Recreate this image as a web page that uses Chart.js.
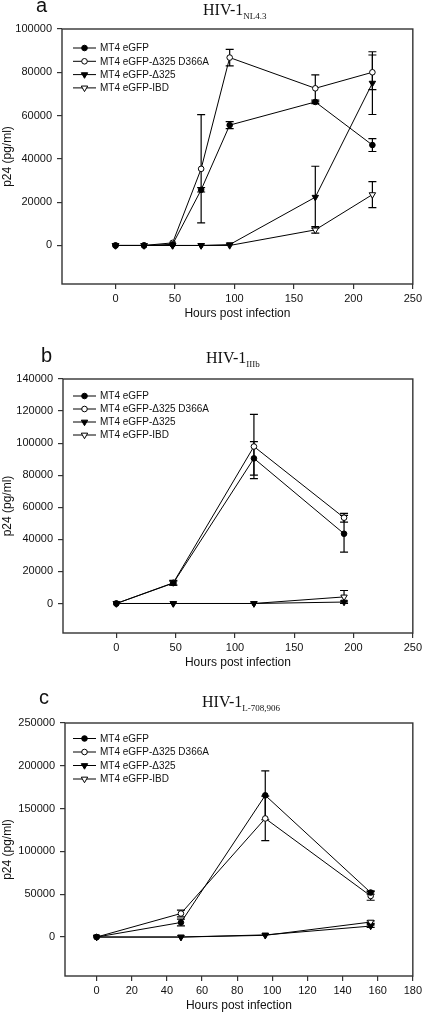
<!DOCTYPE html>
<html>
<head>
<meta charset="utf-8">
<script src="https://cdn.jsdelivr.net/npm/chart.js@4.4.0/dist/chart.umd.min.js"></script>
<style>
  body { margin: 0; background: #fff; width: 425px; height: 1014px; position: relative; overflow: hidden; }
  canvas { position: absolute; left: 0; }
</style>
</head>
<body>
<canvas id="chartA" width="425" height="325" style="top:0px"></canvas>
<canvas id="chartB" width="425" height="345" style="top:330px"></canvas>
<canvas id="chartC" width="425" height="339" style="top:675px"></canvas>
<script>
// series names (same for all three panels)
const seriesNames = ['MT4 eGFP', 'MT4 eGFP-\u0394325 D366A', 'MT4 eGFP-\u0394325', 'MT4 eGFP-IBD'];

// panel a : HIV-1 NL4.3
const hoursA = [0, 24, 48, 72, 96, 168, 216];
const eGFP_A = [0, 0, 500, 25700, 55600, 66300, 46400];
const eGFP_A_err = [0, 0, 0, 1000, 1600, 800, 3000];
const d366a_A = [0, 0, 1200, 35400, 86800, 72600, 80000];
const d366a_A_err = [0, 0, 0, 25000, 3800, 6200, 8000];
const d325_A = [0, 0, 0, 0, 400, 22300, 75000];
const d325_A_err = [0, 0, 0, 0, 0, 14300, 14500];
const ibd_A = [0, 0, 0, 0, 0, 7200, 23500];
const ibd_A_err = [0, 0, 0, 0, 0, 1500, 6000];
const xTicksA = [0, 50, 100, 150, 200, 250];
const yTicksA = [0, 20000, 40000, 60000, 80000, 100000];

// panel b : HIV-1 IIIb
const hoursB = [0, 48, 116, 192];
const eGFP_B = [0, 12700, 90500, 43500];
const eGFP_B_err = [0, 1200, 10500, 11500];
const d366a_B = [0, 12900, 97900, 53500];
const d366a_B_err = [0, 1500, 20000, 2700];
const d325_B = [0, 0, 0, 900];
const d325_B_err = [0, 0, 0, 600];
const ibd_B = [0, 0, 0, 4100];
const ibd_B_err = [0, 0, 0, 4000];
const xTicksB = [0, 50, 100, 150, 200, 250];
const yTicksB = [0, 20000, 40000, 60000, 80000, 100000, 120000, 140000];

// panel c : HIV-1 L-708,906
const hoursC = [0, 48, 96, 156];
const eGFP_C = [0, 17000, 165500, 52000];
const eGFP_C_err = [0, 4000, 28500, 2000];
const d366a_C = [0, 27500, 138500, 48000];
const d366a_C_err = [0, 4000, 26000, 5000];
const d325_C = [0, 0, 2500, 12800];
const d325_C_err = [0, 0, 0, 1500];
const ibd_C = [0, 0, 2000, 17500];
const ibd_C_err = [0, 0, 0, 1500];
const xTicksC = [0, 20, 40, 60, 80, 100, 120, 140, 160, 180];
const yTicksC = [0, 50000, 100000, 150000, 200000, 250000];

// marker look per series
const markers = [
  { pointStyle: 'circle', fill: '#000', rotation: 0, radius: 2.8 },
  { pointStyle: 'circle', fill: '#fff', rotation: 0, radius: 2.8 },
  { pointStyle: 'triangle', fill: '#000', rotation: 180, radius: 3.7 },
  { pointStyle: 'triangle', fill: '#fff', rotation: 180, radius: 3.7 }
];

// error bars under the markers
const errorBars = {
  id: 'errorBars',
  beforeDatasetsDraw(chart) {
    const ctx = chart.ctx;
    const ys = chart.scales.y;
    ctx.save();
    ctx.strokeStyle = '#000';
    ctx.lineWidth = 1.2;
    chart.data.datasets.forEach((ds, i) => {
      const meta = chart.getDatasetMeta(i);
      ds.errors.forEach((e, j) => {
        if (!e) return;
        const x = meta.data[j].x;
        const v = ds.data[j].y;
        const t = ys.getPixelForValue(v + e);
        const b = ys.getPixelForValue(v - e);
        ctx.beginPath();
        ctx.moveTo(x, t); ctx.lineTo(x, b);
        ctx.moveTo(x - 4, t); ctx.lineTo(x + 4, t);
        ctx.moveTo(x - 4, b); ctx.lineTo(x + 4, b);
        ctx.stroke();
      });
    });
    ctx.restore();
  }
};

// box round the plot + panel letter, strain title and legend
const decor = {
  id: 'decor',
  afterDraw(chart, args, opts) {
    const ctx = chart.ctx;
    const a = chart.chartArea;
    ctx.save();
    ctx.strokeStyle = '#333';
    ctx.lineWidth = 1.4;
    ctx.strokeRect(a.left, a.top, a.right - a.left, a.bottom - a.top);

    ctx.fillStyle = '#111';
    ctx.textBaseline = 'alphabetic';
    ctx.textAlign = 'left';
    ctx.font = '20px "Liberation Sans", Arial, sans-serif';
    ctx.fillText(opts.letter, opts.letterX, opts.letterY);

    ctx.font = '16px "Liberation Serif", "Times New Roman", serif';
    ctx.fillText('HIV-1', opts.titleX, opts.titleY);
    const w = ctx.measureText('HIV-1').width;
    ctx.font = '9px "Liberation Serif", "Times New Roman", serif';
    ctx.fillText(opts.sub, opts.titleX + w, opts.titleY + 4);

    // legend
    ctx.font = '10px "Liberation Sans", Arial, sans-serif';
    ctx.textBaseline = 'middle';
    seriesNames.forEach((name, i) => {
      const y = a.top + opts.legTop + i * opts.legStep;
      const x0 = 73;
      ctx.strokeStyle = '#000';
      ctx.lineWidth = 1;
      ctx.beginPath();
      ctx.moveTo(x0, y); ctx.lineTo(x0 + 23, y);
      ctx.stroke();
      const m = markers[i];
      ctx.fillStyle = m.fill;
      Chart.helpers.drawPoint(ctx, { pointStyle: m.pointStyle, rotation: m.rotation, radius: m.radius, borderWidth: 1 }, x0 + 11.5, y);
      ctx.fillStyle = '#111';
      ctx.fillText(name, 100, y + 0.5);
    });
    ctx.restore();
  }
};

function makePanel(id, hours, series, errs, xr, xTicks, yr, yTicks, pad, deco) {
  const datasets = series.map((vals, i) => ({
    label: seriesNames[i],
    data: hours.map((h, j) => ({ x: h, y: vals[j] })),
    errors: errs[i],
    borderColor: '#000',
    borderWidth: 1,
    pointStyle: markers[i].pointStyle,
    pointRotation: markers[i].rotation,
    pointRadius: markers[i].radius,
    pointBackgroundColor: markers[i].fill,
    pointBorderColor: '#000',
    pointBorderWidth: 1,
    fill: false,
    tension: 0
  }));
  const tickFont = { family: '"Liberation Sans", Arial, sans-serif', size: 11 };
  const titleFont = { family: '"Liberation Sans", Arial, sans-serif', size: 12 };
  return new Chart(document.getElementById(id), {
    type: 'line',
    data: { datasets: datasets },
    plugins: [errorBars, decor],
    options: {
      responsive: false,
      animation: false,
      layout: { padding: { top: pad.top, right: 9, bottom: pad.bottom, left: 0 } },
      plugins: { legend: { display: false }, tooltip: { enabled: false }, decor: deco },
      scales: {
        x: {
          type: 'linear', min: xr[0], max: xr[1],
          afterFit: s => { s.height = 37; },
          afterBuildTicks: s => { s.ticks = xTicks.map(v => ({ value: v })); },
          ticks: { font: tickFont, color: '#111', padding: 3, maxRotation: 0, callback: v => String(v) },
          grid: { drawOnChartArea: false, drawTicks: true, tickLength: 5, color: '#333', lineWidth: 1.2 },
          border: { display: false },
          title: { display: true, text: 'Hours post infection', font: titleFont, color: '#111', padding: 0 }
        },
        y: {
          type: 'linear', min: yr[0], max: yr[1],
          afterFit: s => { s.width = pad.left; },
          afterBuildTicks: s => { s.ticks = yTicks.map(v => ({ value: v })); },
          ticks: { font: tickFont, color: '#111', padding: 5, callback: v => String(v) },
          grid: { drawOnChartArea: false, drawTicks: true, tickLength: 5, color: '#333', lineWidth: 1.2 },
          border: { display: false },
          title: { display: true, text: 'p24 (pg/ml)', font: titleFont, color: '#111', padding: { top: 0, bottom: 0 } }
        }
      }
    }
  });
}

makePanel('chartA', hoursA,
  [eGFP_A, d366a_A, d325_A, ibd_A],
  [eGFP_A_err, d366a_A_err, d325_A_err, ibd_A_err],
  [-45, 250], xTicksA, [-17800, 100000], yTicksA,
  { top: 29, bottom: 4, left: 62 },
  { letter: 'a', letterX: 36, letterY: 12, titleX: 203, titleY: 15, sub: 'NL4.3', legTop: 19, legStep: 13.3 });

makePanel('chartB', hoursB,
  [eGFP_B, d366a_B, d325_B, ibd_B],
  [eGFP_B_err, d366a_B_err, d325_B_err, ibd_B_err],
  [-45, 250], xTicksB, [-18400, 140000], yTicksB,
  { top: 49, bottom: 5, left: 63 },
  { letter: 'b', letterX: 41, letterY: 32, titleX: 206, titleY: 33, sub: 'IIIb', legTop: 17, legStep: 13 });

makePanel('chartC', hoursC,
  [eGFP_C, d366a_C, d325_C, ibd_C],
  [eGFP_C_err, d366a_C_err, d325_C_err, ibd_C_err],
  [-18, 180], xTicksC, [-45500, 250000], yTicksC,
  { top: 48, bottom: 1, left: 65 },
  { letter: 'c', letterX: 39, letterY: 29, titleX: 202, titleY: 31.5, sub: 'L-708,906', legTop: 15.5, legStep: 13.5 });
</script>
</body>
</html>
